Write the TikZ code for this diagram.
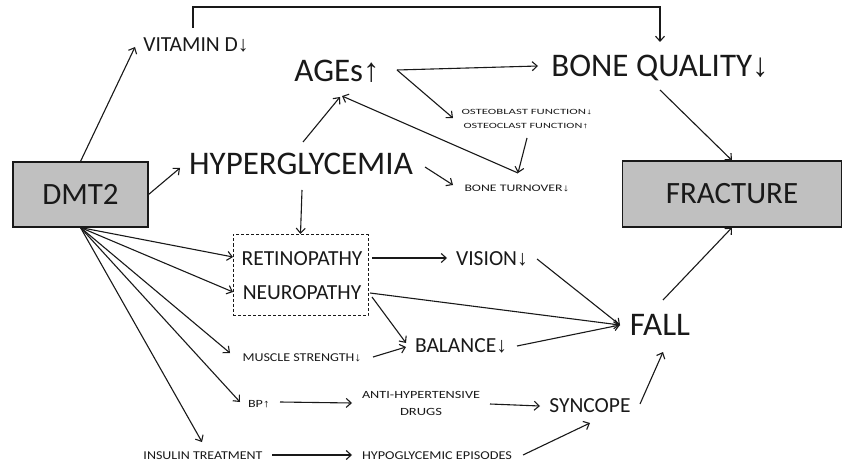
\documentclass[tikz,border=0pt]{standalone}
\usepackage{fontspec}
\usepackage{graphicx}
\setmainfont{Carlito}
\newfontfamily\arrfont{Liberation Sans}
\usetikzlibrary{arrows.meta,calc}
\newcommand{\dnar}{{\arrfont\char"2193}}
\newcommand{\upar}{{\arrfont\char"2191}}
\newcommand{\fitw}[3]{\resizebox{#1pt}{\height}{\fontsize{#2}{#2}\selectfont #3}}
\definecolor{boxgray}{RGB}{192,192,192}
\definecolor{ink}{RGB}{25,25,25}
\tikzset{
  lbl/.style={anchor=base, inner sep=0pt, outer sep=0pt, text=ink},
  big/.style={lbl, font=\fontsize{33}{33}\selectfont},
  mid/.style={lbl, font=\fontsize{21.5}{21.5}\selectfont},
  small/.style={lbl},
  boxnode/.style={draw=ink, line width=1.1pt, fill=boxgray, minimum width=135pt,
    minimum height=65pt, font=\fontsize{31}{31}\selectfont, inner sep=0pt, text=ink},
  dbox/.style={draw=ink, line width=1pt, dash pattern=on 3pt off 2pt,
    minimum width=135pt, minimum height=81pt, inner sep=0pt},
  conn/.style={draw=ink, line width=1.1pt, -{Straight Barb[length=5pt,width=9pt]}},
  plain/.style={draw=ink, line width=1.1pt}
}
\begin{document}
\begin{tikzpicture}[x=1pt,y=-1pt]
\useasboundingbox (0,0) rectangle (843,465);

% boxes
\node[boxnode] (dmt) at (80.5,194.5) {DMT2};
\node[boxnode, minimum width=219pt, minimum height=66pt] (frac) at (732,194) {FRACTURE};
\node[dbox] (dashbox) at (300.5,275) {};

% labels
\node[mid] (vitD) at (196,52) {VITAMIN D\dnar};
\node[big] (ages) at (337,82) {AGEs\upar};
\node[big] (bq) at (660,77) {BONE QUALITY\dnar};
\node[big] (hyper) at (301,175) {HYPERGLYCEMIA};
\node[small] (osteoA) at (527,115) {\fitw{131}{8}{OSTEOBLAST FUNCTION\dnar}};
\node[small] (osteoB) at (526,129) {\fitw{125}{8}{OSTEOCLAST FUNCTION\upar}};
\node[small] (bt) at (517,192) {\fitw{105}{10}{BONE TURNOVER\dnar}};
\node[mid] (retino) at (302,265) {RETINOPATHY};
\node[mid] (neuro) at (302,299) {NEUROPATHY};
\node[mid] (vision) at (492,265) {VISION\dnar};
\node[mid] (balance) at (461,352) {BALANCE\dnar};
\node[small] (muscle) at (302,361) {\fitw{119}{12}{MUSCLE STRENGTH\dnar}};
\node[big] (fall) at (660,335) {FALL};
\node[small] (bp) at (259,407) {\fitw{22}{11}{BP\upar}};
\node[small] (antiA) at (421,398) {\fitw{118}{11}{ANTI-HYPERTENSIVE}};
\node[small] (antiB) at (421,415) {\fitw{42}{11}{DRUGS}};
\node[mid] (syncope) at (590,412) {SYNCOPE};
\node[small] (insulin) at (203,459) {\fitw{119}{12}{INSULIN TREATMENT}};
\node[small] (hypo) at (437,459) {\fitw{150}{12}{HYPOGLYCEMIC EPISODES}};

\coordinate (btj) at ($(bt.base)+(1,-19)$);

% connectors
\draw[conn] (dmt.north) -- ($(vitD.base)+(-61,-5)$);
\draw[conn] ($(vitD.base)+(-3,-24)$) |- ($(bq.base)+(0,-70)$) -- ($(bq.base)+(0,-35)$);
\draw[conn] ($(ages.base)+(60,-12)$) -- ($(bq.base)+(-122,-11)$);
\draw[conn] ($(ages.base)+(60,-12)$) -- ($(osteoA.base)+(-74,3)$);
\draw[conn] ($(hyper.base)+(2,-33)$) -- ($(ages.base)+(3,15)$);
\draw[conn] ($(osteoB.base)+(1,9)$) -- (btj);
\draw[conn] (btj) -- ($(ages.base)+(5,14)$);
\draw[conn] (dmt.east) -- ($(hyper.base)+(-121,-7)$);
\draw[conn] ($(hyper.base)+(124,-8)$) -- ($(bt.base)+(-64,-7)$);
\draw[conn] ($(hyper.base)+(1,15)$) -- (dashbox.north);
\draw[conn] (dmt.south) -- ($(retino.base)+(-69,-8)$);
\draw[conn] (dmt.south) -- ($(neuro.base)+(-69,-7)$);
\draw[conn] (dmt.south) -- ($(muscle.base)+(-72,-8)$);
\draw[conn] (dmt.south) -- ($(bp.base)+(-19,-5)$);
\draw[conn] (dmt.south) -- ($(insulin.base)+(-1,-17)$);
\draw[conn] ($(retino.base)+(70,-7)$) -- ($(vision.base)+(-45,-7)$);
\draw[conn] ($(vision.base)+(45,-6)$) -- ($(fall.base)+(-40,-10)$);
\draw[conn] ($(neuro.base)+(68,-6)$) -- ($(fall.base)+(-40,-10)$);
\draw[conn] ($(neuro.base)+(70,-2)$) -- ($(balance.base)+(-55,-9)$);
\draw[conn] ($(muscle.base)+(71,-4)$) -- ($(balance.base)+(-55,-5)$);
\draw[conn] ($(balance.base)+(56,-6)$) -- ($(fall.base)+(-40,-10)$);
\draw[conn] ($(bp.base)+(21,-5)$) -- ($(antiA.base)+(-69,5)$);
\draw[conn] ($(antiA.base)+(69,6)$) -- ($(syncope.base)+(-50,-6)$);
\draw[conn] ($(insulin.base)+(69,-4)$) -- ($(hypo.base)+(-85,-4)$);
\draw[conn] ($(hypo.base)+(86,-4)$) -- ($(syncope.base)+(0,11)$);
\draw[conn] ($(syncope.base)+(50,-8)$) -- ($(fall.base)+(3,17)$);
\draw[conn] ($(fall.base)+(3,-35)$) -- (frac.south);
\draw[conn] ($(bq.base)+(0,13)$) -- (frac.north);
\end{tikzpicture}
\end{document}
